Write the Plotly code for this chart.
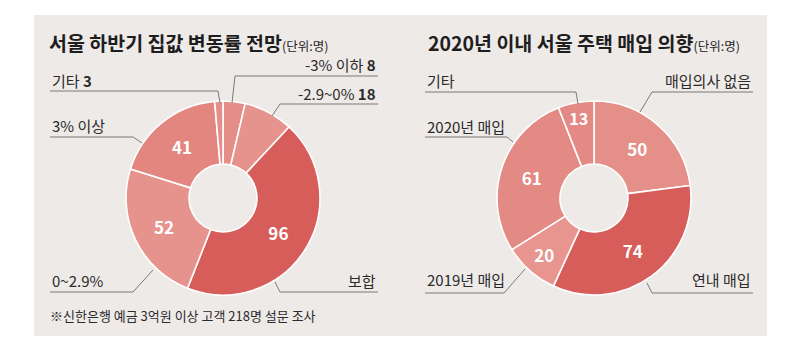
import plotly.graph_objects as go

# ---------------- data ----------------
left_labels = ["-3% 이하", "-2.9~0%", "보합", "0~2.9%", "3% 이상", "기타"]
left_values = [8, 18, 96, 52, 41, 3]
left_shown = [False, False, True, True, True, False]
left_colors = ["#e58e88", "#e7938d", "#d75d5a", "#e7938d", "#e3867f", "#e58e88"]

right_labels = ["매입의사 없음", "연내 매입", "2019년 매입", "2020년 매입", "기타"]
right_values = [50, 74, 20, 61, 13]
right_shown = [True, True, True, True, True]
right_colors = ["#e58f89", "#d75d5a", "#e8958f", "#e38a84", "#e38a84"]

left_title = "서울 하반기 집값 변동률 전망"
right_title = "2020년 이내 서울 주택 매입 의향"
unit = "(단위:명)"
footnote = "※신한은행 예금 3억원 이상 고객 218명 설문 조사"

W, H = 800, 352
FONT = "Noto Sans CJK KR"
BG = "#eeeae8"
LINE = "#7a7a7a"
TXT = "#2b2b2b"

# --------------- layout geometry (pixels) ---------------
R = 97
HOLE = 0.35
centers = [(223, 198), (594, 198)]


def dom(cx, cy):
    return dict(x=[(cx - R) / W, (cx + R) / W], y=[1 - (cy + R) / H, 1 - (cy - R) / H])


fig = go.Figure()
for (cx, cy), labs, vals, shown, cols in [
    (centers[0], left_labels, left_values, left_shown, left_colors),
    (centers[1], right_labels, right_values, right_shown, right_colors),
]:
    fig.add_trace(go.Pie(
        labels=labs, values=vals, sort=False, direction="clockwise", rotation=0,
        hole=HOLE, domain=dom(cx, cy),
        marker=dict(colors=cols, line=dict(color="white", width=1.6)),
        text=[f"<b>{v}</b>" if s else "" for v, s in zip(vals, shown)],
        textinfo="text", textposition="inside", insidetextorientation="horizontal",
        textfont=dict(family=FONT, size=17, color="white"),
        hoverinfo="label+value", showlegend=False,
    ))

# leader lines: (polyline points)
leaders = [
    [(50, 91), (218, 91), (220, 103)],            # 기타 3
    [(378, 76), (235, 76), (232, 103)],           # -3% 이하
    [(378, 104), (280, 104), (272, 116)],         # -2.9~0%
    [(50, 137), (133, 137), (142, 143)],          # 3% 이상
    [(50, 292), (133, 292), (153, 270)],          # 0~2.9%
    [(378, 292), (280, 292), (275, 282)],         # 보합
    [(425, 92), (576, 92), (578, 104)],           # 기타
    [(753, 92), (652, 92), (640, 112)],           # 매입의사 없음
    [(425, 137), (507, 137), (513, 142)],         # 2020년 매입
    [(425, 293), (504, 293), (525, 269)],         # 2019년 매입
    [(753, 293), (652, 293), (647, 283)],         # 연내 매입
]

shapes = [dict(type="rect", xref="x", yref="y", x0=34, x1=767, y0=15, y1=336,
               fillcolor=BG, line=dict(width=0), layer="below")]
for pts in leaders:
    path = "M " + " L ".join(f"{x},{y}" for x, y in pts)
    shapes.append(dict(type="path", xref="x", yref="y", path=path,
                       line=dict(color=LINE, width=1)))

# label annotations: text, x, y, anchor
label_pos = [
    (f"기타 <b>{left_values[5]}</b>", 50, 80, "left"),
    (f"{left_labels[0]} <b>{left_values[0]}</b>", 378, 64, "right"),
    (f"{left_labels[1]} <b>{left_values[1]}</b>", 378, 93, "right"),
    (left_labels[4], 50, 125, "left"),
    (left_labels[3], 50, 280, "left"),
    (left_labels[2], 378, 280, "right"),
    (right_labels[4], 425, 80, "left"),
    (right_labels[0], 753, 80, "right"),
    (right_labels[3], 425, 126, "left"),
    (right_labels[2], 425, 279, "left"),
    (right_labels[1], 753, 279, "right"),
]
annotations = []
for t, x, y, anc in label_pos:
    annotations.append(dict(text=t, x=x, y=y, xref="x", yref="y", xanchor=anc,
                            yanchor="middle", showarrow=False,
                            font=dict(family=FONT, size=15, color=TXT)))

for t, x in [(left_title, 47), (right_title, 426)]:
    annotations.append(dict(
        text=f"<b>{t}</b><span style='font-size:12.5px'>{unit}</span>",
        x=x, y=42, xref="x", yref="y", xanchor="left", yanchor="middle",
        showarrow=False, font=dict(family=FONT, size=19.5, color="#1e1e1e")))

annotations.append(dict(text=footnote, x=48, y=315, xref="x", yref="y",
                        xanchor="left", yanchor="middle", showarrow=False,
                        font=dict(family=FONT, size=13, color=TXT)))

fig.update_layout(
    width=W, height=H, margin=dict(l=0, r=0, t=0, b=0),
    paper_bgcolor="white", plot_bgcolor="rgba(0,0,0,0)",
    xaxis=dict(range=[0, W], visible=False, fixedrange=True, domain=[0, 1]),
    yaxis=dict(range=[H, 0], visible=False, fixedrange=True, domain=[0, 1]),
    shapes=shapes, annotations=annotations,
)

fig.write_html("out.html")
